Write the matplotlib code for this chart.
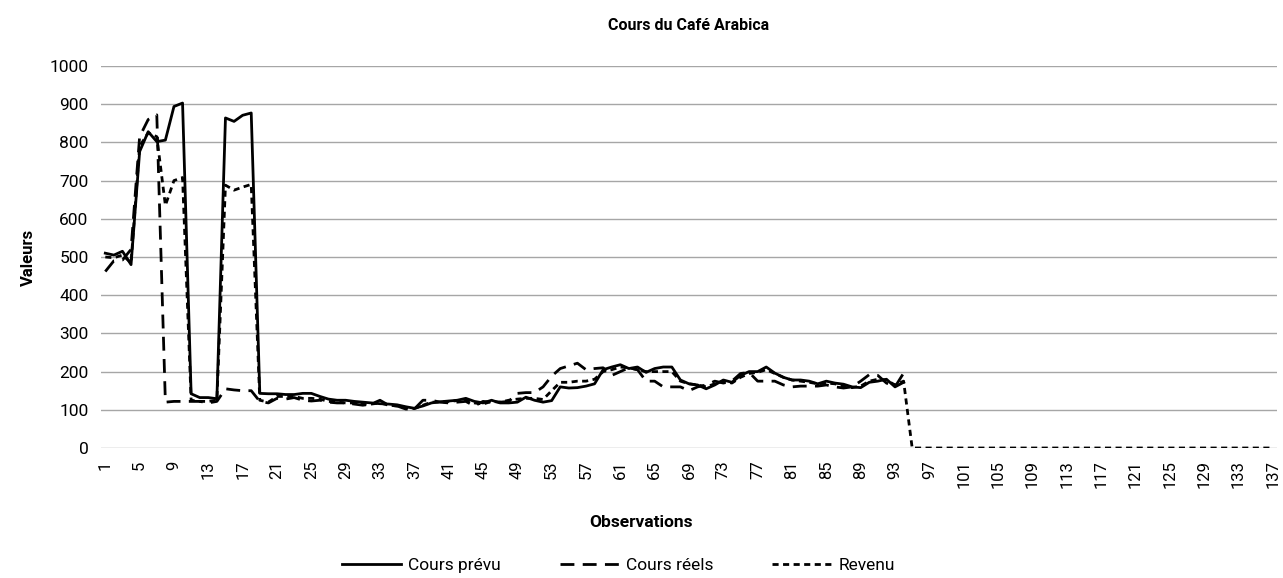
import numpy as np
import matplotlib
matplotlib.use('Agg')
import matplotlib.pyplot as plt

plt.rcParams['font.family'] = ['Roboto', 'DejaVu Sans']

# observations 1..94 for the two price series
cours_prevu = [510, 505, 515, 480, 776, 828, 802, 806, 894, 903,
               142, 132, 132, 129, 864, 855, 871, 877,
               143, 142, 142, 140, 140, 143, 143, 135, 128, 125,
               125, 122, 120, 118, 116, 115, 113, 108, 104, 110,
               118, 121, 123, 125, 130, 122, 118, 125, 118, 118,
               120, 133, 125, 120, 124,
               160, 157, 158, 162, 168, 205, 212, 218, 208, 212,
               198, 208, 212, 212, 178, 168, 165, 155, 165, 178,
               172, 190, 200, 200, 212, 196, 185, 178, 178, 175,
               168, 175, 170, 167, 160, 158, 172, 175, 180, 160, 172]

cours_reels = [462, 490, 492, 520, 815, 860, 872, 120, 122, 122,
               122, 122, 118, 122, 155, 152, 150, 150,
               122, 118, 130, 128, 132, 125, 123, 125, 120, 118,
               118, 115, 112, 115, 125, 112, 110, 102, 102, 125,
               125, 120, 118, 120, 122, 110, 122, 120, 120, 122,
               143, 145, 145, 160, 188,
               208, 215, 222, 205, 208, 210, 190, 200, 210, 205,
               175, 175, 160, 160, 160, 150, 160, 165, 175, 170,
               175, 195, 198, 175, 175, 175, 165, 160, 162, 162,
               162, 165, 160, 157, 160, 175, 192, 190, 170, 160, 196]

revenu_actif = [500, 498, 505, 485, 790, 825, 815, 635, 700, 708,
                125, 122, 122, 125, 688, 675, 683, 690,
                125, 120, 135, 135, 135, 130, 130, 128, 122, 120,
                118, 118, 115, 115, 118, 112, 110, 106, 103, 112,
                120, 120, 122, 124, 126, 118, 115, 122, 120, 125,
                128, 130, 130, 127, 150,
                172, 172, 175, 175, 180, 200, 205, 212, 210, 205,
                200, 200, 200, 200, 175, 168, 165, 160, 168, 175,
                170, 185, 195, 198, 205, 195, 185, 178, 175, 172,
                168, 170, 168, 162, 158, 162, 175, 180, 178, 165, 175]
n_obs = 137
revenu = revenu_actif + [0] * (n_obs - len(revenu_actif))

obs_prix = np.arange(1, len(cours_prevu) + 1)
obs_all = np.arange(1, n_obs + 1)
tick_obs = list(range(1, n_obs + 1, 4))

fig = plt.figure(figsize=(12.83, 5.78), dpi=100)
ax = fig.add_axes([101/1283, 1 - 448/578, 1176/1283, 382/578])

ax.plot(obs_prix, cours_prevu, color='black', lw=2.0, label='Cours prévu')
ax.plot(obs_prix, cours_reels, color='black', lw=2.0, dashes=(5, 3), label='Cours réels')
ax.plot(obs_all, revenu, color='black', lw=2.0, dashes=(2.2, 1.6), label='Revenu')

ax.set_xlim(0.5, n_obs + 0.5)
ax.set_ylim(0, 1000)
ax.set_yticks(range(0, 1001, 100))
ax.set_xticks(tick_obs)
ax.set_xticklabels([str(t) for t in tick_obs], rotation=90, fontsize=12)
ax.tick_params(axis='y', labelsize=12.5, length=0, pad=9)
ax.tick_params(axis='x', length=0, pad=9)
ax.grid(axis='y', color='#a6a6a6', lw=1.0)
ax.set_axisbelow(True)
for s in ax.spines.values():
    s.set_visible(False)

ax.set_title('Cours du Café Arabica', fontsize=11.5, fontweight='bold', pad=26)
ax.set_xlabel('Observations', fontsize=12.5, fontweight='bold')
ax.xaxis.set_label_coords((641 - 101) / 1176, -0.175)
ax.set_ylabel('Valeurs', fontsize=12, fontweight='bold', labelpad=10)

fig.legend(loc='lower center', bbox_to_anchor=(0.482, -0.018), ncol=3, frameon=False,
           fontsize=12.5, handlelength=3.4, columnspacing=3.4, handletextpad=0.4)

fig.savefig('out.png', dpi=100)
